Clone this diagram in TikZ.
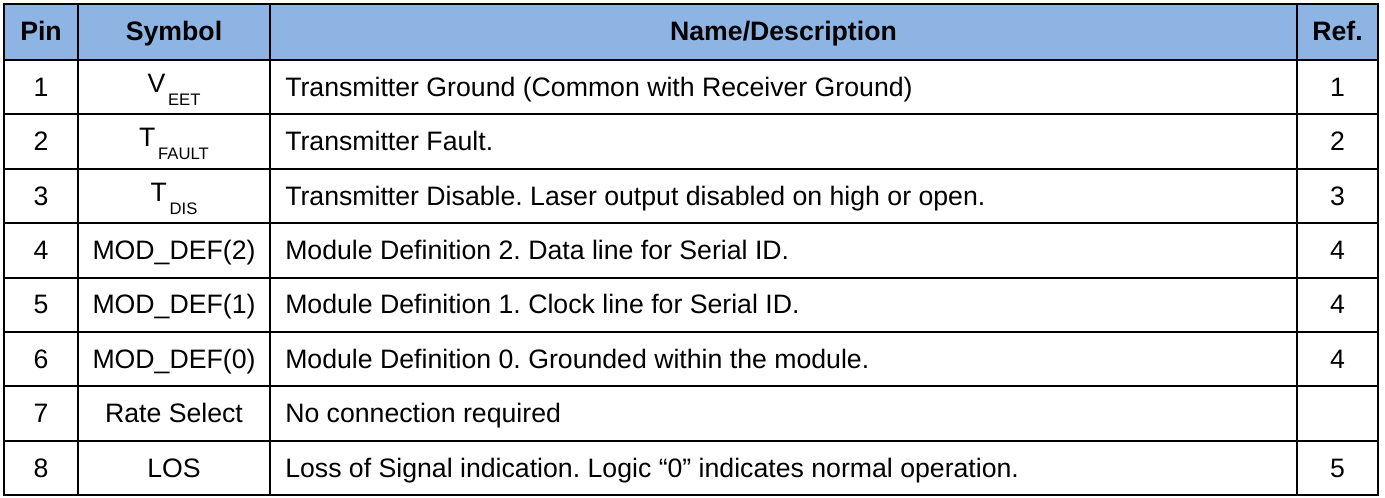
\documentclass[tikz,border=0pt]{standalone}
\usepackage{fontspec}
\setmainfont{Liberation Sans}
\usepackage{xcolor}
\definecolor{intestazione}{RGB}{142,180,227}
\newcommand{\pedice}[2]{\raisebox{3pt}{#1\hspace{2pt}{\fontsize{12.5}{12.5}\selectfont\raisebox{-9.75pt}{#2}}}}
\frenchspacing
\tikzset{
    cella/.style={anchor=base, inner sep=0pt, font=\fontsize{20}{21}\selectfont},
    titolo/.style={cella, font=\fontsize{20}{21}\selectfont\bfseries},
    descr/.style={cella, anchor=base west},
    bordo/.style={line width=1.6pt, black}
}

\begin{document}
\begin{tikzpicture}[x=0.75pt, y=-0.75pt]
    % Parametri (aiuto)
    \pgfmathsetmacro{\xa}{4}
    \pgfmathsetmacro{\xb}{78}
    \pgfmathsetmacro{\xc}{270}
    \pgfmathsetmacro{\xd}{1297}
    \pgfmathsetmacro{\xe}{1378}
    \pgfmathsetmacro{\ytop}{4}
    \pgfmathsetmacro{\yhead}{60}
    \pgfmathsetmacro{\hrow}{54.4}
    \pgfmathsetmacro{\ybot}{\yhead+8*\hrow}
    \useasboundingbox (0,0) rectangle (1385,497);
    % Intestazione
    \fill[intestazione] (\xa,\ytop) rectangle (\xe,\yhead);
    \node[titolo] (hpin) at ({(\xa+\xb)/2},{(\ytop+\yhead)/2+8}) {Pin};
    \node[titolo] (hsym) at ({(\xb+\xc)/2},{(\ytop+\yhead)/2+8}) {Symbol};
    \node[titolo] (hdesc) at ({(\xc+\xd)/2},{(\ytop+\yhead)/2+8}) {Name/Description};
    \node[titolo] (href) at ({(\xd+\xe)/2},{(\ytop+\yhead)/2+8}) {Ref.};
    % Righe
    \foreach \n/\s/\d/\r in {
        1/{\pedice{V}{EET}}/{Transmitter Ground (Common with Receiver Ground)}/1,
        2/{\pedice{T}{FAULT}}/{Transmitter Fault.}/2,
        3/{\pedice{T}{DIS}}/{Transmitter Disable. Laser output disabled on high or open.}/3,
        4/{MOD\_DEF(2)}/{Module Definition 2. Data line for Serial ID.}/4,
        5/{MOD\_DEF(1)}/{Module Definition 1. Clock line for Serial ID.}/4,
        6/{MOD\_DEF(0)}/{Module Definition 0. Grounded within the module.}/4,
        7/{Rate Select}/{No connection required}/{},
        8/{LOS}/{Loss of Signal indication. Logic “0” indicates normal operation.}/5} {
        \pgfmathsetmacro{\yc}{\yhead+(\n-0.5)*\hrow+9}
        \node[cella] (pin\n) at ({(\xa+\xb)/2},\yc) {\n};
        \node[cella] (sym\n) at ({(\xb+\xc)/2},\yc) {\s};
        \node[descr] (desc\n) at (\xc+15,\yc) {\d};
        \node[cella] (ref\n) at ({(\xd+\xe)/2},\yc) {\r};
    }
    % Griglia
    \foreach \k in {1,...,7}
        \draw[bordo] (\xa,{\yhead+\k*\hrow}) -- (\xe,{\yhead+\k*\hrow});
    \draw[bordo] (\xa,\yhead) -- (\xe,\yhead);
    \foreach \x in {\xb,\xc,\xd}
        \draw[bordo] (\x,\ytop) -- (\x,\ybot);
    \draw[bordo] (\xa,\ytop) rectangle (\xe,\ybot);
\end{tikzpicture}
\end{document}
